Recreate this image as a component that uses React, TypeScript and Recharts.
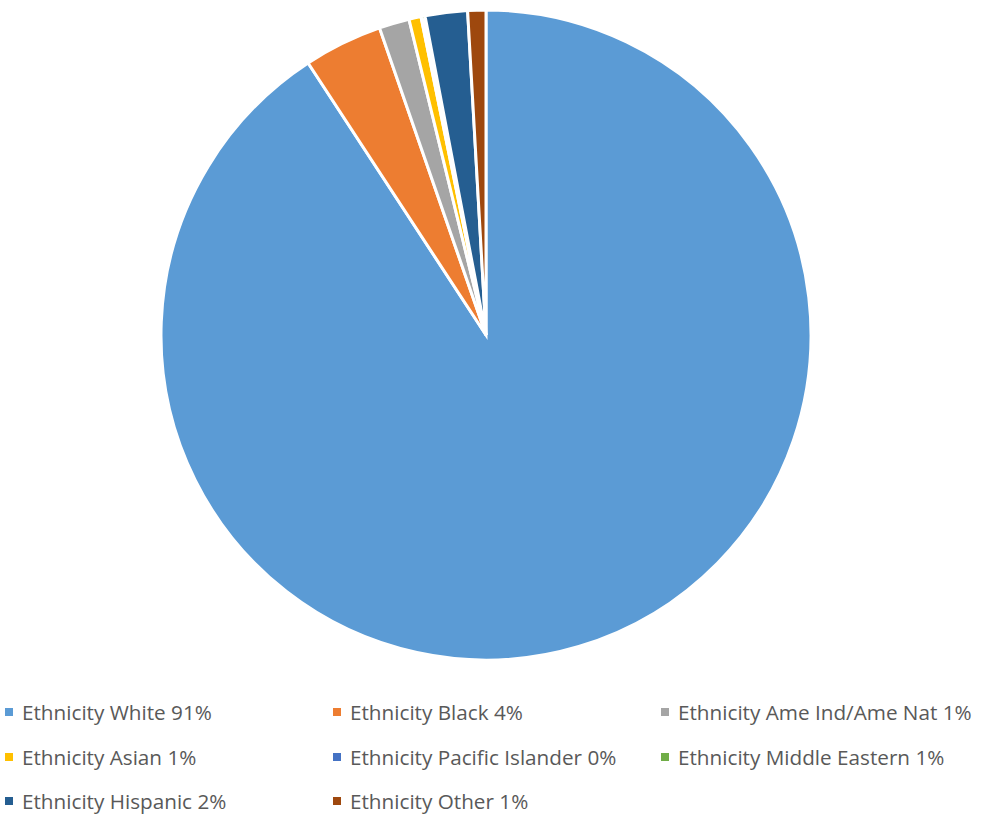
import React from "react";
import { Cell, Legend, Pie, PieChart } from "recharts";

const names = [
  "Ethnicity White 91%",
  "Ethnicity Black 4%",
  "Ethnicity Ame Ind/Ame Nat 1%",
  "Ethnicity Asian 1%",
  "Ethnicity Pacific Islander 0%",
  "Ethnicity Middle Eastern 1%",
  "Ethnicity Hispanic 2%",
  "Ethnicity Other 1%",
];
const shares = [90.6, 3.9, 1.5, 0.6, 0.05, 0.15, 2.1, 0.9];
const colors = [
  "#5B9BD5",
  "#ED7D31",
  "#A5A5A5",
  "#FFC000",
  "#4472C4",
  "#70AD47",
  "#255E91",
  "#9E480E",
];

const data = names.map((name, i) => ({ name, value: shares[i] }));

// legend laid out in 3 columns like the office chart
const LegendGrid = () => (
  <div style={{ position: "relative", width: 987, height: 113 }}>
    {names.map((name, i) => {
      const col = i % 3;
      const row = Math.floor(i / 3);
      return (
        <div
          key={name}
          style={{
            position: "absolute",
            left: 5 + col * 328,
            top: 1 + row * 44.5,
            height: 22,
            display: "flex",
            alignItems: "center",
            whiteSpace: "nowrap",
          }}
        >
          <span
            style={{
              display: "inline-block",
              width: 8,
              height: 8,
              background: colors[i],
              marginRight: 9,
            }}
          />
          <span
            style={{
              color: "#595959",
              fontSize: 20.7,
              lineHeight: "22px",
              fontFamily: "'Open Sans', sans-serif",
            }}
          >
            {name}
          </span>
        </div>
      );
    })}
  </div>
);

export default function App() {
  return (
    <div style={{ position: "absolute", left: 0, top: 0, width: 987, height: 815, background: "#fff" }}>
      <PieChart width={987} height={815} margin={{ top: 0, right: 0, bottom: 0, left: 0 }}>
        <Pie
          data={data}
          dataKey="value"
          nameKey="name"
          cx={486}
          cy={335}
          outerRadius={325}
          startAngle={90}
          endAngle={-270}
          stroke="#ffffff"
          strokeWidth={3}
          isAnimationActive={false}
        >
          {data.map((d, i) => (
            <Cell key={d.name} fill={colors[i]} />
          ))}
        </Pie>
        <Legend
          content={() => <LegendGrid />}
          wrapperStyle={{ position: "absolute", left: 0, top: 700, width: 987 }}
        />
      </PieChart>
    </div>
  );
}
